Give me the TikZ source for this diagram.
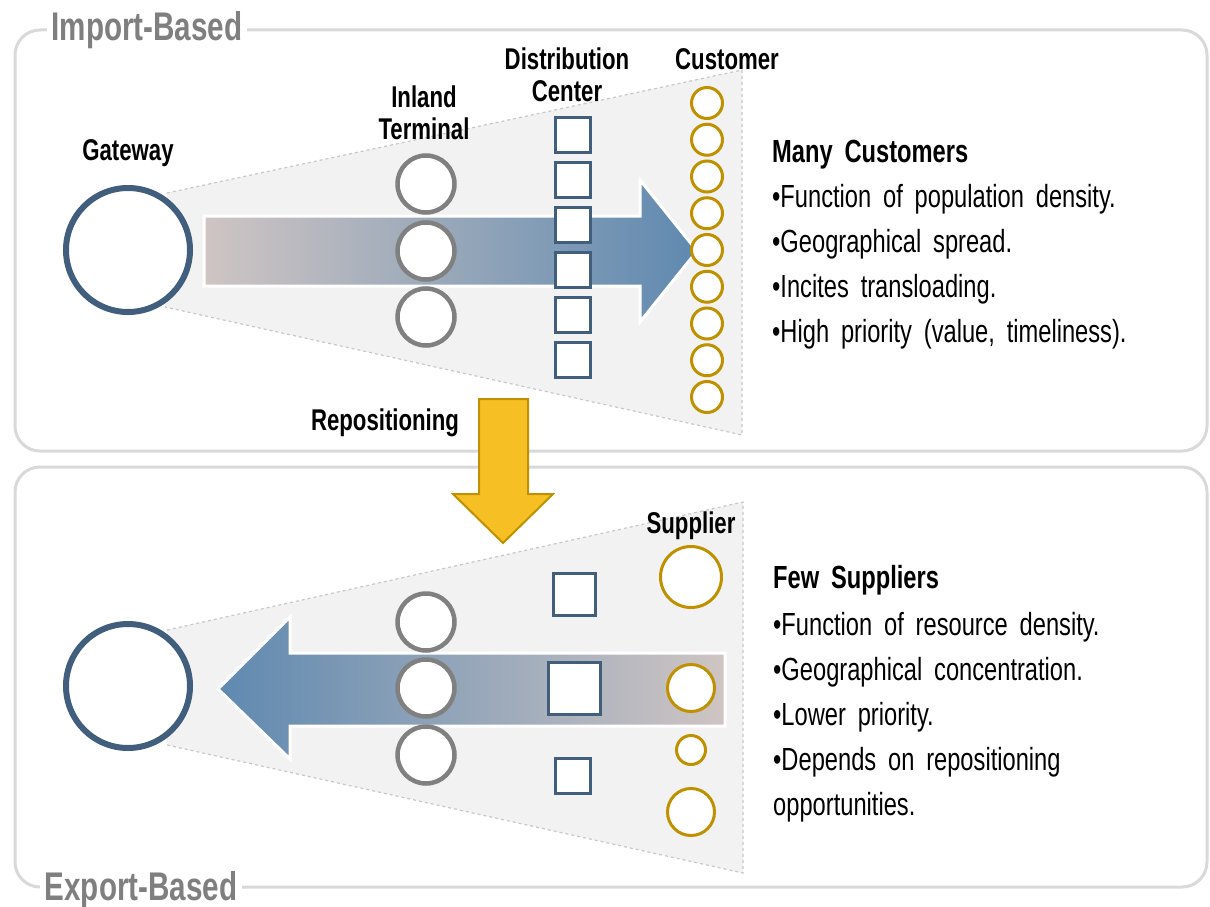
\documentclass[tikz,border=0pt]{standalone}
\usepackage{fontspec}
\setmainfont{Liberation Sans}[FakeStretch=0.74,WordSpace=1.8]
\usetikzlibrary{positioning}

\definecolor{slate}{RGB}{65,95,125}
\definecolor{midgray}{RGB}{128,128,128}
\definecolor{ochre}{RGB}{191,144,0}
\definecolor{sun}{RGB}{246,192,36}
\definecolor{rose}{RGB}{207,197,195}
\definecolor{haze}{RGB}{168,172,184}
\definecolor{steel}{RGB}{95,137,176}
\definecolor{funnelgray}{RGB}{242,242,242}
\definecolor{dashgray}{RGB}{200,200,200}
\definecolor{panelgray}{RGB}{217,217,217}
\definecolor{titlegray}{RGB}{127,127,127}

\tikzset{
  panel/.style={draw=panelgray, line width=3pt, rounded corners=25pt},
  title/.style={font=\bfseries\fontsize{40}{44}\selectfont, text=titlegray,
    fill=white, inner xsep=5pt, inner ysep=2pt, anchor=base},
  funnel/.style={fill=funnelgray},
  rim/.style={draw=dashgray, line width=1.2pt, dashed},
  flow/.style={draw=white, line width=3pt, line join=miter},
  gate/.style={circle, draw=slate, line width=6pt, fill=white,
    minimum size=124pt, inner sep=0pt},
  term/.style={circle, draw=midgray, line width=4.5pt, fill=white,
    minimum size=57pt, inner sep=0pt},
  dc/.style={rectangle, draw=slate, line width=3pt, fill=white,
    minimum size=35pt, inner sep=0pt},
  cust/.style={circle, draw=ochre, line width=3pt, fill=white,
    minimum size=31pt, inner sep=0pt},
  lbl/.style={font=\bfseries\fontsize{30}{32}\selectfont, align=center,
    inner sep=0pt},
  head/.style={font=\bfseries\fontsize{32}{36}\selectfont,
    anchor=base west, inner sep=0pt},
  body/.style={font=\fontsize{32}{36}\selectfont, anchor=base west,
    inner sep=0pt},
  repo/.style={fill=sun, draw=ochre, line width=2pt, line join=miter}
}

\begin{document}
\begin{tikzpicture}[x=1pt, y=-1pt, on grid]
  \useasboundingbox (0,0) rectangle (1210,907);

  % panels
  \draw[panel] (15,30) rectangle (1207,451);
  \draw[panel] (15,467) rectangle (1207,887);
  \node[title] (imp) at (147,41) {Import-Based};
  \node[title] (exp) at (141,900) {Export-Based};

  % import side
  \fill[funnel] (167,193) -- (742,70) -- (742,435) -- (165,307) -- cycle;
  \draw[rim] (167,193) -- (742,70) -- (742,435) -- (165,307);
  \draw[flow, left color=rose, middle color=haze, right color=steel]
    (204,216) -- (640,216) -- (640,180) -- (697,251) -- (640,322)
    -- (640,286) -- (204,286) -- cycle;

  \node[gate] (gw1) at (128,250) {};
  \node[term] (it2) at (426,251) {};
  \node[term, above=67pt of it2] (it1) {};
  \node[term, below=66pt of it2] (it3) {};

  \node[dc] (dc1) at (573,135) {};
  \node[dc, below=45pt of dc1] (dc2) {};
  \node[dc, below=45pt of dc2] (dc3) {};
  \node[dc, below=45pt of dc3] (dc4) {};
  \node[dc, below=45pt of dc4] (dc5) {};
  \node[dc, below=45pt of dc5] (dc6) {};

  \node[cust] (cu1) at (707,103) {};
  \node[cust, below=36.75pt of cu1] (cu2) {};
  \node[cust, below=36.75pt of cu2] (cu3) {};
  \node[cust, below=36.75pt of cu3] (cu4) {};
  \node[cust, below=36.75pt of cu4] (cu5) {};
  \node[cust, below=36.75pt of cu5] (cu6) {};
  \node[cust, below=36.75pt of cu6] (cu7) {};
  \node[cust, below=36.75pt of cu7] (cu8) {};
  \node[cust, below=36.75pt of cu8] (cu9) {};

  \node[lbl, anchor=base] (gwl) at (128,160) {Gateway};
  \node[lbl, anchor=south] (itl) at (424,140) {Inland\\Terminal};
  \node[lbl, anchor=south] (dcl) at (567,102) {Distribution\\Center};
  \node[lbl, anchor=base] (cul) at (727,70) {Customer};

  \node[head] (mc) at (772,162) {Many Customers};
  \node[body] (mc1) at (772,207) {•Function of population density.};
  \node[body] (mc2) at (772,252) {•Geographical spread.};
  \node[body] (mc3) at (772,297) {•Incites transloading.};
  \node[body] (mc4) at (772,342) {•High priority (value, timeliness).};

  % export side
  \fill[funnel] (167,630) -- (743,502) -- (743,873) -- (167,745) -- cycle;
  \draw[rim] (167,630) -- (743,502) -- (743,873) -- (167,745);
  \draw[flow, left color=steel, middle color=haze, right color=rose]
    (725,653) -- (290,653) -- (290,617) -- (218,689) -- (290,759)
    -- (290,726) -- (725,726) -- cycle;

  \node[gate] (gw2) at (128,686) {};
  \node[term] (it5) at (426,688) {};
  \node[term, above=66pt of it5] (it4) {};
  \node[term, below=67pt of it5] (it6) {};

  \node[dc, minimum size=42pt] (sq1) at (574,594) {};
  \node[dc, minimum size=52pt] (sq2) at (574,688) {};
  \node[dc] (sq3) at (573,776) {};

  \node[cust, minimum size=61pt] (su1) at (691,577) {};
  \node[cust, minimum size=47pt] (su2) at (691,688) {};
  \node[cust, minimum size=29pt] (su3) at (691,750) {};
  \node[cust, minimum size=47pt] (su4) at (691,812) {};

  \node[lbl, anchor=base] (sul) at (691,533) {Supplier};

  \node[head] (fs) at (773,588) {Few Suppliers};
  \node[body] (fs1) at (773,635) {•Function of resource density.};
  \node[body] (fs2) at (773,680) {•Geographical concentration.};
  \node[body] (fs3) at (773,725) {•Lower priority.};
  \node[body] (fs4) at (773,770) {•Depends on repositioning};
  \node[body] (fs5) at (773,815) {opportunities.};

  % repositioning
  \draw[repo] (479,399) -- (528,399) -- (528,494) -- (553,494) -- (503,543)
    -- (453,494) -- (479,494) -- cycle;
  \node[lbl, anchor=base] (rp) at (385,430) {Repositioning};
\end{tikzpicture}
\end{document}
